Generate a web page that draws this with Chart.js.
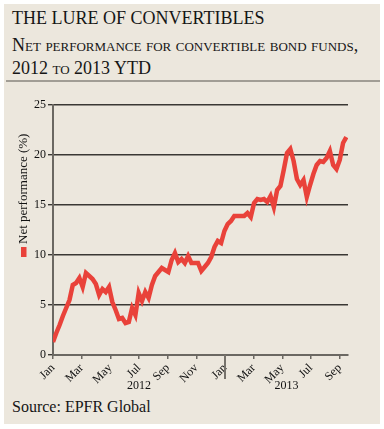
<!DOCTYPE html>
<html>
<head>
<meta charset="utf-8">
<script src="https://cdn.jsdelivr.net/npm/chart.js@4"></script>
<style>
  html, body { margin: 0; padding: 0; background: #fff; }
  #panel { position: absolute; left: 4px; top: 4px; width: 376px; height: 420px; background: #ece7dd; }
  .txt { position: absolute; font-family: 'Liberation Serif', serif; color: #161616; white-space: nowrap; }
  #rule { position: absolute; left: 6px; top: 80px; width: 374px; height: 2px; background: #a19d95; }
  canvas { position: absolute; left: 0; top: 0; }
</style>
</head>
<body>
<div id="panel"></div>
<div class="txt" style="left:12px;top:8px;font-size:18px;">THE LURE OF CONVERTIBLES</div>
<div class="txt" style="left:12px;top:35px;font-size:18px;font-variant:small-caps;">Net performance for convertible bond funds,</div>
<div class="txt" style="left:12px;top:58px;font-size:18px;font-variant:small-caps;">2012 to 2013 YTD</div>
<div id="rule"></div>
<div class="txt" style="left:12px;top:398px;font-size:16px;">Source: EPFR Global</div>
<canvas id="myChart" width="384" height="429"></canvas>
<script>
// weekly readings, week 0 = first week of Jan 2012
var weeks = [];
for (var w = 0; w <= 89; w++) weeks.push(w);
var perf = [1.3, 2.2, 3.0, 3.9, 4.7, 5.5, 7.0, 7.2, 7.7, 6.8,
            8.2, 7.9, 7.6, 7.1, 6.0, 6.6, 6.3, 6.8, 5.3, 4.5,
            3.6, 3.7, 3.2, 3.3, 4.7, 4.0, 6.2, 5.4, 6.3, 5.7,
            7.0, 7.9, 8.3, 8.7, 8.5, 8.3, 9.5, 10.2, 9.3, 9.6,
            9.2, 9.9, 9.2, 9.2, 9.2, 8.4, 8.8, 9.2, 9.8, 10.8,
            11.4, 11.2, 12.4, 13.1, 13.4, 13.9, 13.9, 13.9, 13.9, 14.2,
            13.8, 15.2, 15.6, 15.5, 15.6, 15.3, 15.9, 14.8, 16.5, 16.9,
            18.5, 20.2, 20.6, 19.4, 17.6, 17.0, 17.5, 15.8, 17.0, 18.1,
            19.0, 19.4, 19.3, 19.7, 20.4, 19.0, 18.6, 19.5, 21.2, 21.8];

var monthLabels = ['Jan', 'Mar', 'May', 'Jul', 'Sep', 'Nov', 'Jan', 'Mar', 'May', 'Jul', 'Sep'];
var monthIndex = [0, 2, 4, 6, 8, 10, 12, 14, 16, 18, 20]; // months since Jan 2012
var yearLabels = ['2012', '2013'];
var yearStart = [0, 12];      // month where each year starts
var yTicks = [0, 5, 10, 15, 20, 25];

var WEEKS_PER_MONTH = 52.18 / 12;
var lastWeek = 89.5;
var red = '#e9423a';
var serif = "'Liberation Serif', serif";

var extras = {
  id: 'extras',
  afterDraw: function(chart) {
    var c = chart.ctx;
    var xs = chart.scales.x;
    var area = chart.chartArea;
    c.save();
    // year divider tick
    var xj = xs.getPixelForValue(yearStart[1] * WEEKS_PER_MONTH);
    c.strokeStyle = '#77736c';
    c.lineWidth = 2;
    c.beginPath();
    c.moveTo(xj, area.bottom);
    c.lineTo(xj, area.bottom + 24);
    c.stroke();
    // year labels
    c.fillStyle = '#111';
    c.font = '12px ' + serif;
    c.textAlign = 'center';
    c.textBaseline = 'middle';
    for (var i = 0; i < yearLabels.length; i++) {
      var a = yearStart[i] * WEEKS_PER_MONTH;
      var b = i + 1 < yearStart.length ? yearStart[i + 1] * WEEKS_PER_MONTH : lastWeek;
      c.fillText(yearLabels[i], xs.getPixelForValue((a + b) / 2), area.bottom + 31);
    }
    // axis title with legend key
    c.translate(24, 257);
    c.rotate(-Math.PI / 2);
    c.fillStyle = red;
    c.fillRect(0, -3, 10, 5.5);
    c.fillStyle = '#111';
    c.font = '13px ' + serif;
    c.textAlign = 'left';
    c.fillText('Net performance (%)', 13, 0);
    c.restore();
  }
};

var ctx = document.getElementById('myChart').getContext('2d');
var chart = new Chart(ctx, {
  type: 'line',
  data: {
    datasets: [{
      label: 'Net performance',
      data: weeks.map(function(w, i) { return { x: w, y: perf[i] }; }),
      borderColor: red,
      borderWidth: 4.5,
      pointRadius: 0,
      tension: 0,
      fill: false
    }]
  },
  options: {
    responsive: false,
    animation: false,
    layout: { padding: { top: 105, right: 36, left: 0, bottom: 0 } },
    plugins: { legend: { display: false }, tooltip: { enabled: false } },
    scales: {
      x: {
        type: 'linear',
        min: 0,
        max: lastWeek,
        afterBuildTicks: function(scale) {
          scale.ticks = monthIndex.map(function(m) { return { value: m * WEEKS_PER_MONTH }; });
        },
        afterFit: function(scale) { scale.height = 74; },
        ticks: {
          minRotation: 45,
          maxRotation: 45,
          autoSkip: false,
          padding: 2,
          color: '#111',
          font: { family: serif, size: 12 },
          callback: function(v, i) { return monthLabels[i]; }
        },
        grid: { drawOnChartArea: false, color: '#6b6862', lineWidth: 1.5, tickLength: 4 },
        border: { color: '#6b6862', width: 2 }
      },
      y: {
        min: 0,
        max: 25,
        afterBuildTicks: function(scale) {
          scale.ticks = yTicks.map(function(v) { return { value: v }; });
        },
        afterFit: function(scale) { scale.width = 53; },
        ticks: {
          padding: 2,
          color: '#111',
          font: { family: serif, size: 12 }
        },
        grid: { color: '#3a3834', lineWidth: 1.4, tickLength: 5 },
        border: { color: '#6b6862', width: 2 }
      }
    }
  },
  plugins: [extras]
});
</script>
</body>
</html>
